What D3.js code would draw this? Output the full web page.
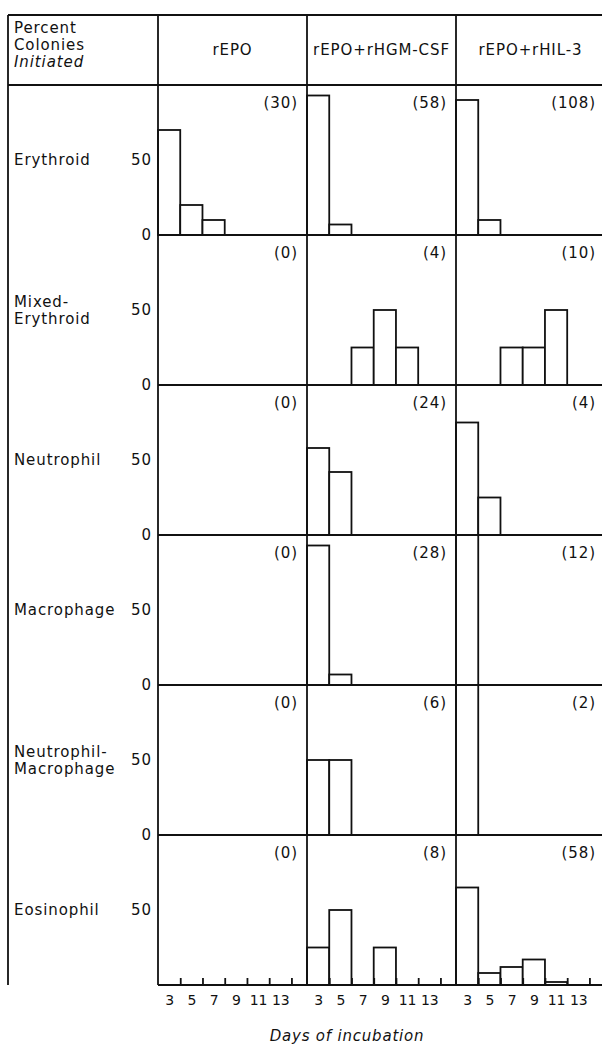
<!DOCTYPE html>
<html>
<head>
<meta charset="utf-8">
<script src="https://cdn.jsdelivr.net/npm/d3@7/dist/d3.min.js"></script>
<style>
	html, body { margin: 0; padding: 0; background: #fff; }
	svg text { font-family: 'DejaVu Sans', sans-serif; fill: #111; }
</style>
</head>
<body>
<svg id="chart" width="602" height="1052"></svg>
<script>
"use strict";

// column headers, row labels, x categories
var treatments = ['rEPO', 'rEPO+rHGM-CSF', 'rEPO+rHIL-3'];
var lineages = [['Erythroid'], ['Mixed-', 'Erythroid'], ['Neutrophil'], ['Macrophage'], ['Neutrophil-', 'Macrophage'], ['Eosinophil']];
var days = [3, 5, 7, 9, 11, 13];
var yTicks = [0, 50];

// total colonies per cell (row = lineage, col = treatment)
var colonyCounts = [
	[30, 58, 108],
	[0, 4, 10],
	[0, 24, 4],
	[0, 28, 12],
	[0, 6, 2],
	[0, 8, 58]
];

// percent colonies initiated per day, one list per treatment
var erythroid = [[70, 20, 10, 0, 0, 0], [93, 7, 0, 0, 0, 0], [90, 10, 0, 0, 0, 0]];
var mixedErythroid = [[0, 0, 0, 0, 0, 0], [0, 0, 25, 50, 25, 0], [0, 0, 25, 25, 50, 0]];
var neutrophil = [[0, 0, 0, 0, 0, 0], [58, 42, 0, 0, 0, 0], [75, 25, 0, 0, 0, 0]];
var macrophage = [[0, 0, 0, 0, 0, 0], [93, 7, 0, 0, 0, 0], [100, 0, 0, 0, 0, 0]];
var neutrophilMacrophage = [[0, 0, 0, 0, 0, 0], [50, 50, 0, 0, 0, 0], [100, 0, 0, 0, 0, 0]];
var eosinophil = [[0, 0, 0, 0, 0, 0], [25, 50, 0, 25, 0, 0], [65, 8, 12, 17, 2, 0]];

var percents = [erythroid, mixedErythroid, neutrophil, macrophage, neutrophilMacrophage, eosinophil];

+function(d3){

	var layout = {
		left: 8,
		labelRight: 158,
		panelW: 149,
		top: 15,
		headerBottom: 85,
		rowH: 150,
		width: 602
	};
	var lineW = 1.8;
	var fontSize = 15;
	var letterSp = '0.9px';

	var svg = d3.select('#chart');
	var bottom = layout.headerBottom + lineages.length * layout.rowH;

	//Scales (bin for day d spans d-1 .. d+1)
	var x = d3.scaleLinear().domain([2, 15.4]).range([0, layout.panelW]);
	var y = d3.scaleLinear().domain([0, 100]).range([layout.rowH, 0]);

	var panelX = function(j) { return layout.labelRight + j * layout.panelW; };
	var rowY = function(i) { return layout.headerBottom + i * layout.rowH; };

	//Bars
	percents.forEach(function(rowData, i) {
		rowData.forEach(function(vals, j) {
			var g = svg.append('g')
				.attr('transform', 'translate(' + panelX(j) + ',' + rowY(i) + ')');

			var bars = days.map(function(d, k) { return { day: d, v: vals[k] }; })
				.filter(function(b) { return b.v > 0; });

			g.selectAll('rect')
				.data(bars)
				.enter().append('rect')
				.attr('x', function(b) { return x(b.day - 1); })
				.attr('width', function(b) { return x(b.day + 1) - x(b.day - 1); })
				.attr('y', function(b) { return y(b.v); })
				.attr('height', function(b) { return layout.rowH - y(b.v); })
				.attr('fill', '#fff')
				.attr('stroke', '#111')
				.attr('stroke-width', lineW);

			//colony count
			g.append('text')
				.attr('x', layout.panelW - 9)
				.attr('y', 23)
				.attr('text-anchor', 'end')
				.attr('font-size', fontSize)
				.attr('letter-spacing', letterSp)
				.text('(' + colonyCounts[i][j] + ')');
		});

		//Y axis labels
		var yAxis = d3.axisLeft(y)
			.tickValues(i === lineages.length - 1 ? [50] : yTicks)
			.tickSize(0)
			.tickPadding(6);
		var ya = svg.append('g')
			.attr('transform', 'translate(' + layout.labelRight + ',' + rowY(i) + ')')
			.call(yAxis);
		ya.select('.domain').remove();
		ya.selectAll('text')
			.attr('font-size', fontSize)
			.attr('letter-spacing', letterSp)
			.attr('font-family', null);

		//Row label
		var names = lineages[i];
		var label = svg.append('text')
			.attr('x', layout.left + 6)
			.attr('y', rowY(i) + y(50))
			.attr('font-size', fontSize)
			.attr('letter-spacing', letterSp);
		names.forEach(function(n, k) {
			label.append('tspan')
				.attr('x', layout.left + 6)
				.attr('dy', k === 0 ? (names.length > 1 ? -3 : 5) : 17)
				.text(n);
		});
	});

	//Bottom axis: ticks at bin edges, labels at bin centres
	treatments.forEach(function(t, j) {
		var tickAxis = d3.axisBottom(x)
			.tickValues(days.map(function(d) { return d + 1; }))
			.tickSize(-7)
			.tickFormat('');
		var ta = svg.append('g')
			.attr('transform', 'translate(' + panelX(j) + ',' + bottom + ')')
			.call(tickAxis);
		ta.select('.domain').remove();
		ta.selectAll('line').attr('stroke', '#111').attr('stroke-width', lineW);

		var labelAxis = d3.axisBottom(x)
			.tickValues(days)
			.tickSize(0)
			.tickPadding(10);
		var la = svg.append('g')
			.attr('transform', 'translate(' + panelX(j) + ',' + bottom + ')')
			.call(labelAxis);
		la.select('.domain').remove();
		la.selectAll('text')
			.attr('font-size', 14)
			.attr('font-family', null);

		//Column header
		svg.append('text')
			.attr('x', panelX(j) + layout.panelW / 2)
			.attr('y', (layout.top + layout.headerBottom) / 2 + 5)
			.attr('text-anchor', 'middle')
			.attr('font-size', fontSize)
			.attr('letter-spacing', letterSp)
			.text(t);
	});

	//Header label
	var hdr = svg.append('text')
		.attr('x', layout.left + 6)
		.attr('y', layout.top + 18)
		.attr('font-size', fontSize)
		.attr('letter-spacing', letterSp);
	hdr.append('tspan').attr('x', layout.left + 6).text('Percent');
	hdr.append('tspan').attr('x', layout.left + 6).attr('dy', 17).text('Colonies');
	hdr.append('tspan').attr('x', layout.left + 6).attr('dy', 17).attr('font-style', 'italic').text('Initiated');

	//Frame lines
	var frame = svg.append('g')
		.attr('stroke', '#111')
		.attr('stroke-width', lineW)
		.attr('fill', 'none');
	frame.append('line')
		.attr('x1', layout.left).attr('x2', layout.width)
		.attr('y1', layout.top).attr('y2', layout.top);
	frame.append('line')
		.attr('x1', layout.left).attr('x2', layout.width)
		.attr('y1', layout.headerBottom).attr('y2', layout.headerBottom);
	frame.append('line')
		.attr('x1', layout.left).attr('x2', layout.left)
		.attr('y1', layout.top).attr('y2', bottom);
	[0, 1, 2].forEach(function(j) {
		frame.append('line')
			.attr('x1', panelX(j)).attr('x2', panelX(j))
			.attr('y1', layout.top).attr('y2', bottom);
	});
	lineages.forEach(function(l, i) {
		frame.append('line')
			.attr('x1', layout.labelRight).attr('x2', layout.width)
			.attr('y1', rowY(i + 1)).attr('y2', rowY(i + 1));
	});

	//X title
	svg.append('text')
		.attr('x', panelX(1) + 40)
		.attr('y', 1041)
		.attr('text-anchor', 'middle')
		.attr('font-size', fontSize)
		.attr('font-style', 'italic')
		.attr('letter-spacing', '0.8px')
		.text('Days of incubation');

}(d3);
</script>
</body>
</html>
